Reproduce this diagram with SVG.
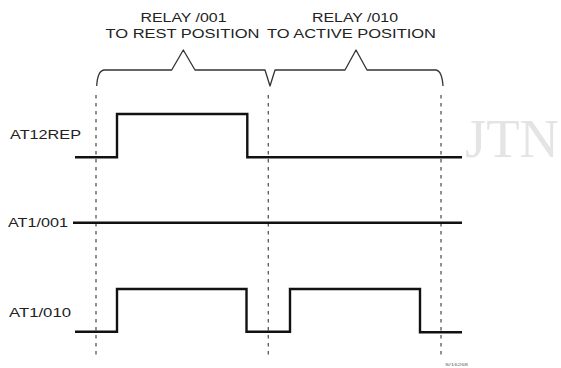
<svg xmlns="http://www.w3.org/2000/svg" width="561" height="368" viewBox="0 0 561 368">
<style>
.bg{fill:#ffffff}
.lbl{font-family:"Liberation Sans",Arial,sans-serif;fill:#222;font-size:13px}
.hdr{font-family:"Liberation Sans",Arial,sans-serif;fill:#222;font-size:12.5px;text-anchor:middle}
.sig{fill:none;stroke:#111;stroke-width:2.4;stroke-linejoin:miter}
.brace{fill:none;stroke:#333;stroke-width:1.3;stroke-linejoin:round}
.dash{stroke:#555;stroke-width:1.3;stroke-dasharray:3.5 4.5}
.wm{font-family:"Liberation Serif","Times New Roman",serif;fill:#e4e4e4;font-size:55px}
.tiny{font-family:"Liberation Sans",Arial,sans-serif;fill:#666;font-size:4px}
</style>
<rect class="bg" x="0" y="0" width="561" height="368"/>
<text class="wm" x="465" y="157" textLength="94" lengthAdjust="spacingAndGlyphs">JTN</text>
<g id="header">
<text class="hdr" x="183.5" y="21.7" textLength="86" lengthAdjust="spacingAndGlyphs">RELAY /001</text>
<text class="hdr" x="182.5" y="37.7" textLength="154" lengthAdjust="spacingAndGlyphs">TO REST POSITION</text>
<text class="hdr" x="355" y="21.7" textLength="86" lengthAdjust="spacingAndGlyphs">RELAY /010</text>
<text class="hdr" x="351.5" y="37.7" textLength="169" lengthAdjust="spacingAndGlyphs">TO ACTIVE POSITION</text>
<path class="brace" d="M96.7,86 Q97.5,71 104,70 L171.7,70 L183.3,50 L195,70 L265,70 L270,86 L275,70 L345,70 L356,50 L367,70 L436,70 Q442,71 443,86"/>
</g>
<g id="connectors">
<line class="dash" x1="96" y1="95" x2="96" y2="358"/>
<line class="dash" x1="268.3" y1="95" x2="268.3" y2="358"/>
<line class="dash" x1="441" y1="95" x2="441" y2="358"/>
</g>
<g id="AT12REP">
<text class="lbl" x="10" y="139" textLength="71" lengthAdjust="spacingAndGlyphs">AT12REP</text>
<path class="sig" d="M75,157.3 L117,157.3 L117,114 L247.3,114 L247.3,157.3 L462,157.3"/>
</g>
<g id="AT1-001">
<text class="lbl" x="8" y="227" textLength="60" lengthAdjust="spacingAndGlyphs">AT1/001</text>
<path class="sig" d="M73,222.7 L462,222.7"/>
</g>
<g id="AT1-010">
<text class="lbl" x="9" y="316.7" textLength="62" lengthAdjust="spacingAndGlyphs">AT1/010</text>
<path class="sig" d="M75,331.7 L117,331.7 L117,289 L246.5,289 L246.5,331.7 L290,331.7 L290,289 L420,289 L420,332.3 L462,332.3"/>
</g>
<text class="tiny" x="445" y="366" textLength="23" lengthAdjust="spacingAndGlyphs">S/16268</text>
</svg>
